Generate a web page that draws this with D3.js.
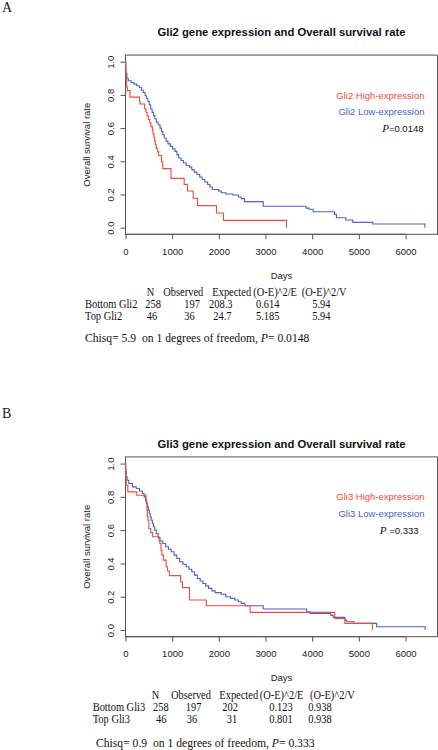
<!DOCTYPE html>
<html><head><meta charset="utf-8">
<script src="https://cdn.jsdelivr.net/npm/d3@7"></script>
<style>
html,body{margin:0;padding:0;background:#fff;}
svg{display:block;}
</style></head>
<body>
<script>
// ---------------- DATA ----------------
const xTicks = [0, 1000, 2000, 3000, 4000, 5000, 6000];
const yTicks = [0, 0.2, 0.4, 0.6, 0.8, 1.0];

// Panel A: Gli2  [days, survival]
const gli2High = [[0,1.0],[8,0.935],[15,0.891],[25,0.848],[40,0.826],[95,0.787],[300,0.765],[310,0.745],[410,0.717],[440,0.696],[464,0.674],[490,0.652],[520,0.630],[545,0.609],[575,0.587],[590,0.565],[610,0.543],[625,0.522],[640,0.500],[660,0.478],[690,0.457],[710,0.435],[770,0.396],[800,0.356],[975,0.297],[1257,0.261],[1328,0.221],[1450,0.177],[1543,0.133],[1950,0.088],[2100,0.044],[3450,0.0]];
const gli2Low = [[0,1.0],[3,0.96],[10,0.93],[30,0.90],[60,0.885],[120,0.875],[180,0.865],[240,0.855],[300,0.845],[340,0.83],[380,0.815],[420,0.795],[450,0.78],[480,0.76],[510,0.74],[540,0.715],[570,0.695],[600,0.675],[630,0.655],[660,0.635],[700,0.62],[740,0.60],[770,0.58],[800,0.56],[830,0.54],[870,0.52],[910,0.505],[960,0.49],[1010,0.475],[1060,0.46],[1100,0.44],[1140,0.42],[1190,0.405],[1240,0.39],[1300,0.375],[1370,0.365],[1420,0.35],[1470,0.335],[1530,0.32],[1590,0.305],[1640,0.29],[1700,0.275],[1760,0.26],[1810,0.245],[1860,0.23],[1990,0.222],[2050,0.21],[2150,0.203],[2300,0.197],[2420,0.185],[2480,0.175],[2550,0.157],[2950,0.129],[3870,0.118],[3930,0.111],[4020,0.096],[4480,0.08],[4520,0.060],[4720,0.046],[4870,0.032],[5300,0.022],[6414,0.0]];

// Panel B: Gli3
const gli3High = [[0,1.0],[5,0.913],[15,0.87],[50,0.83],[240,0.81],[440,0.77],[460,0.72],[470,0.68],[480,0.66],[500,0.61],[540,0.585],[580,0.56],[720,0.535],[735,0.52],[760,0.48],[780,0.45],[810,0.42],[870,0.38],[900,0.355],[940,0.327],[1180,0.29],[1220,0.255],[1370,0.18],[1730,0.146],[2670,0.106],[4486,0.07],[4700,0.04],[5290,0.0]];
const gli3Low = [[0,1.0],[3,0.96],[15,0.92],[35,0.90],[70,0.88],[150,0.86],[230,0.85],[300,0.835],[360,0.82],[400,0.80],[430,0.78],[450,0.76],[470,0.74],[490,0.72],[510,0.70],[530,0.68],[550,0.66],[575,0.64],[600,0.62],[625,0.60],[660,0.58],[700,0.555],[740,0.535],[800,0.52],[860,0.50],[920,0.485],[980,0.47],[1040,0.45],[1100,0.43],[1160,0.41],[1230,0.395],[1300,0.38],[1360,0.365],[1420,0.35],[1480,0.33],[1540,0.31],[1600,0.295],[1660,0.28],[1720,0.265],[1780,0.25],[1850,0.235],[1920,0.225],[2050,0.215],[2150,0.20],[2250,0.19],[2340,0.18],[2420,0.17],[2480,0.16],[2560,0.146],[2950,0.126],[3880,0.11],[3950,0.10],[4400,0.088],[4450,0.076],[4700,0.06],[4740,0.05],[4900,0.04],[5380,0.02],[6420,0.0]];

const titles = ["Gli2 gene expression and Overall survival rate", "Gli3 gene expression and Overall survival rate"];
const legendHigh = ["Gli2 High-expression", "Gli3 High-expression"];
const legendLow = ["Gli2 Low-expression", "Gli3 Low-expression"];
const pLabels = ["=0.0148", " =0.333"];
const panelLetters = ["A", "B"];

const tableHeader = ["N", "Observed", "Expected", "(O-E)^2/E", "(O-E)^2/V"];
const tableA = [["Bottom Gli2","258","197","208.3","0.614","5.94"],["Top Gli2","46","36","24.7","5.185","5.94"]];
const tableB = [["Bottom Gli3","258","197","202","0.123","0.938"],["Top Gli3","46","36","31","0.801","0.938"]];
const chisqA = ["Chisq= 5.9  on 1 degrees of freedom, ", "P", "= 0.0148"];
const chisqB = ["Chisq= 0.9  on 1 degrees of freedom, ", "P", "= 0.333"];

// ---------------- LAYOUT ----------------
const W = 438, H = 750;
const RED = "#f04b3c", BLUE = "#4a62c2";
const sans = "'Liberation Sans', Arial, sans-serif";
const serif = "'Liberation Serif', 'Times New Roman', serif";

const svg = d3.select("body").append("svg").attr("width", W).attr("height", H);

const panels = [
  {top: 55.1, bottom: 234.3, titleY: 36, letterY: 12, high: gli2High, low: gli2Low,
   table: tableA, chisq: chisqA, tBase: 296, chisqY: 342,
   hdrX: [146.7,163.3,212.3,253.3,301.7], cellX: [[85,145.3,184.3,209,256,312.3],[85,146.7,184.3,213.3,256,312.3]], chisqX: 85},
  {top: 456.9, bottom: 636.7, titleY: 448, letterY: 418, high: gli3High, low: gli3Low,
   table: tableB, chisq: chisqB, tBase: 699, chisqY: 747,
   hdrX: [151.7,171,219.3,259.7,310], cellX: [[92.7,153,185.7,222.3,269.3,308.3],[92.7,156,186.7,226.7,269.3,308.3]], chisqX: 96}
];

const left = 125.5, right = 437.5;
const x = d3.scaleLinear().domain([0, 6685]).range([left, right]);
const tScale = 0.87, cScale = 0.97, tf = 12;

panels.forEach((p, i) => {
  const g = svg.append("g");
  const y = d3.scaleLinear().domain([-0.04, 1.04]).range([p.bottom, p.top]);

  // panel letter
  g.append("text").attr("x", 2).attr("y", p.letterY).attr("font-family", serif)
    .attr("font-size", 14).attr("fill", "#222").text(panelLetters[i]);

  // title
  g.append("text").attr("x", (left + right) / 2).attr("y", p.titleY)
    .attr("text-anchor", "middle").attr("font-family", sans).attr("font-weight", "bold")
    .attr("font-size", 11.3).attr("fill", "#111").text(titles[i]);

  // box
  g.append("rect").attr("x", left).attr("y", p.top).attr("width", right - left)
    .attr("height", p.bottom - p.top).attr("fill", "none").attr("stroke", "#555").attr("stroke-width", 1);

  // x axis
  const xa = g.append("g").attr("transform", `translate(0,${p.bottom})`)
    .call(d3.axisBottom(x).tickValues(xTicks).tickFormat(d3.format("d")).tickSizeOuter(0).tickSize(5).tickPadding(8.5));
  xa.select(".domain").attr("stroke", "#555").attr("d", `M${x(0)},0H${x(6000)}`);
  xa.selectAll("line").attr("stroke", "#555");
  xa.selectAll("text").attr("font-family", sans).attr("font-size", 9.5).attr("fill", "#222");

  // y axis
  const ya = g.append("g").attr("transform", `translate(${left},0)`)
    .call(d3.axisLeft(y).tickValues(yTicks).tickFormat(d3.format(".1f")).tickSizeOuter(0).tickSize(5));
  ya.select(".domain").attr("stroke", "#555").attr("d", `M0,${y(0)}V${y(1)}`);
  ya.selectAll("line").attr("stroke", "#555");
  ya.selectAll("text").attr("font-family", sans).attr("font-size", 9.5).attr("fill", "#222")
    .attr("x", null).attr("dy", null).attr("text-anchor", "middle")
    .attr("transform", "translate(-14.5,0) rotate(-90)").attr("dy", "0.35em");

  // axis titles
  g.append("text").attr("transform", `translate(89.5,${(y(0) + y(1)) / 2}) rotate(-90)`)
    .attr("text-anchor", "middle").attr("font-family", sans).attr("font-size", 9.5).attr("fill", "#222")
    .text("Overall survival rate");
  g.append("text").attr("x", (left + right) / 2).attr("y", p.bottom + 44.5)
    .attr("text-anchor", "middle").attr("font-family", sans).attr("font-size", 9.5).attr("fill", "#222")
    .text("Days");

  // curves
  const line = d3.line().x(d => x(d[0])).y(d => y(d[1])).curve(d3.curveStepAfter);
  g.append("path").datum(p.low).attr("d", line).attr("fill", "none").attr("stroke", BLUE).attr("stroke-width", 1.1);
  g.append("path").datum(p.high).attr("d", line).attr("fill", "none").attr("stroke", RED).attr("stroke-width", 1.1);

  // legend
  const lx = 424.5;
  const ly = p.top + 43.5;
  g.append("text").attr("x", lx).attr("y", ly).attr("text-anchor", "end").attr("font-family", sans)
    .attr("font-size", 9.5).attr("fill", RED).text(legendHigh[i]);
  g.append("text").attr("x", lx).attr("y", ly + 16.7).attr("text-anchor", "end").attr("font-family", sans)
    .attr("font-size", 9.5).attr("fill", BLUE).text(legendLow[i]);
  const pt = g.append("text").attr("x", i === 0 ? lx - 1 : lx - 6).attr("y", ly + 33.4).attr("text-anchor", "end")
    .attr("font-family", sans).attr("font-size", 9.5).attr("fill", "#111");
  pt.append("tspan").attr("font-family", serif).attr("font-style", "italic").attr("font-size", 11).text("P");
  pt.append("tspan").text(pLabels[i]);

  // table (R console print, Times, slightly condensed)
  const cell = (tx, ty, s) => g.append("text").attr("transform", `translate(${tx},${ty}) scale(${s},1)`)
    .attr("font-family", serif).attr("font-size", tf).attr("fill", "#111");
  tableHeader.forEach((h, j) => cell(p.hdrX[j], p.tBase, tScale).text(h));
  p.table.forEach((row, r) => {
    row.forEach((c, j) => cell(p.cellX[r][j], p.tBase + 12 * (r + 1), tScale).text(c));
  });
  const ct = cell(p.chisqX, p.chisqY, cScale).style("white-space", "pre");
  ct.append("tspan").text(p.chisq[0]);
  ct.append("tspan").attr("font-style", "italic").text(p.chisq[1]);
  ct.append("tspan").text(p.chisq[2]);
});
</script>
</body></html>
